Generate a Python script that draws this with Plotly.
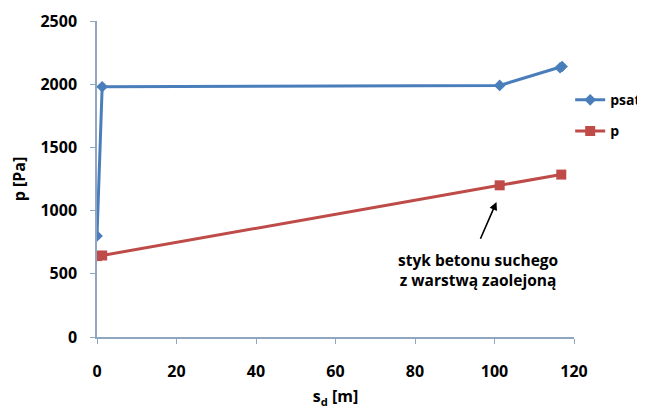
import plotly.graph_objects as go

psat_x = [0, 1.3, 101.3, 116.5, 117]
psat_y = [800, 1980, 1990, 2130, 2140]
p_x = [0, 1.3, 101.3, 116.8]
p_y = [640, 645, 1200, 1285]

x_ticks = [0, 20, 40, 60, 80, 100, 120]
y_ticks = [0, 500, 1000, 1500, 2000, 2500]

BLUE = "#4A7EBB"
RED = "#BE4B48"
AXIS = "#8EA6BF"
FONT = "Open Sans"

fig = go.Figure()
fig.add_trace(go.Scatter(x=psat_x, y=psat_y, name="psat", mode="lines+markers",
                         legendgroup="a",
                         line=dict(color=BLUE, width=3),
                         marker=dict(symbol="diamond", size=9, color=BLUE)))
fig.add_trace(go.Scatter(x=p_x, y=p_y, name="p", mode="lines+markers",
                         legendgroup="b",
                         line=dict(color=RED, width=3),
                         marker=dict(symbol="square", size=10, color=RED)))

fig.add_annotation(x=100.5, y=1068, ax=96.3, ay=765, xref="x", yref="y",
                   axref="x", ayref="y", text="", showarrow=True,
                   arrowhead=2, arrowsize=1, arrowwidth=1.6, arrowcolor="black")
fig.add_annotation(x=95.8, y=527, xref="x", yref="y", showarrow=False,
                   text="<b>styk betonu suchego<br>z warstwą zaolejoną</b>",
                   font=dict(family=FONT, size=15.5, color="black"), align="center")

# page body has an 8px default margin, so the figure is 8px smaller and offset
fig.update_layout(
    width=637, height=402,
    margin=dict(l=89, r=71, t=13, b=73, autoexpand=False),
    paper_bgcolor="white", plot_bgcolor="white",
    font=dict(family=FONT, size=16, color="black"),
    showlegend=True,
    legend=dict(x=0.992, y=0.80, xanchor="left", yanchor="top",
                font=dict(family=FONT, size=14, color="black", weight="bold"),
                traceorder="grouped", tracegroupgap=10,
                bgcolor="rgba(0,0,0,0)", itemwidth=30),
    xaxis=dict(range=[0, 120], tickvals=x_ticks, showgrid=False, zeroline=False,
               showline=True, linecolor=AXIS, linewidth=1.5, automargin=False,
               ticks="outside", ticklen=5, tickcolor=AXIS, ticklabelstandoff=14,
               tickfont=dict(family=FONT, size=16, weight="bold"),
               title=dict(text="<b>s<sub>d</sub> [m]</b>", font=dict(family=FONT, size=16), standoff=10)),
    yaxis=dict(range=[0, 2500], tickvals=y_ticks, showgrid=False, zeroline=False,
               showline=True, linecolor=AXIS, linewidth=1.5, automargin=False,
               ticks="outside", ticklen=5, tickcolor=AXIS, ticklabelstandoff=10,
               tickfont=dict(family=FONT, size=16, weight="bold"),
               title=dict(text="<b>p [Pa]</b>", font=dict(family=FONT, size=16), standoff=14)),
)

fig.write_html("out.html")
